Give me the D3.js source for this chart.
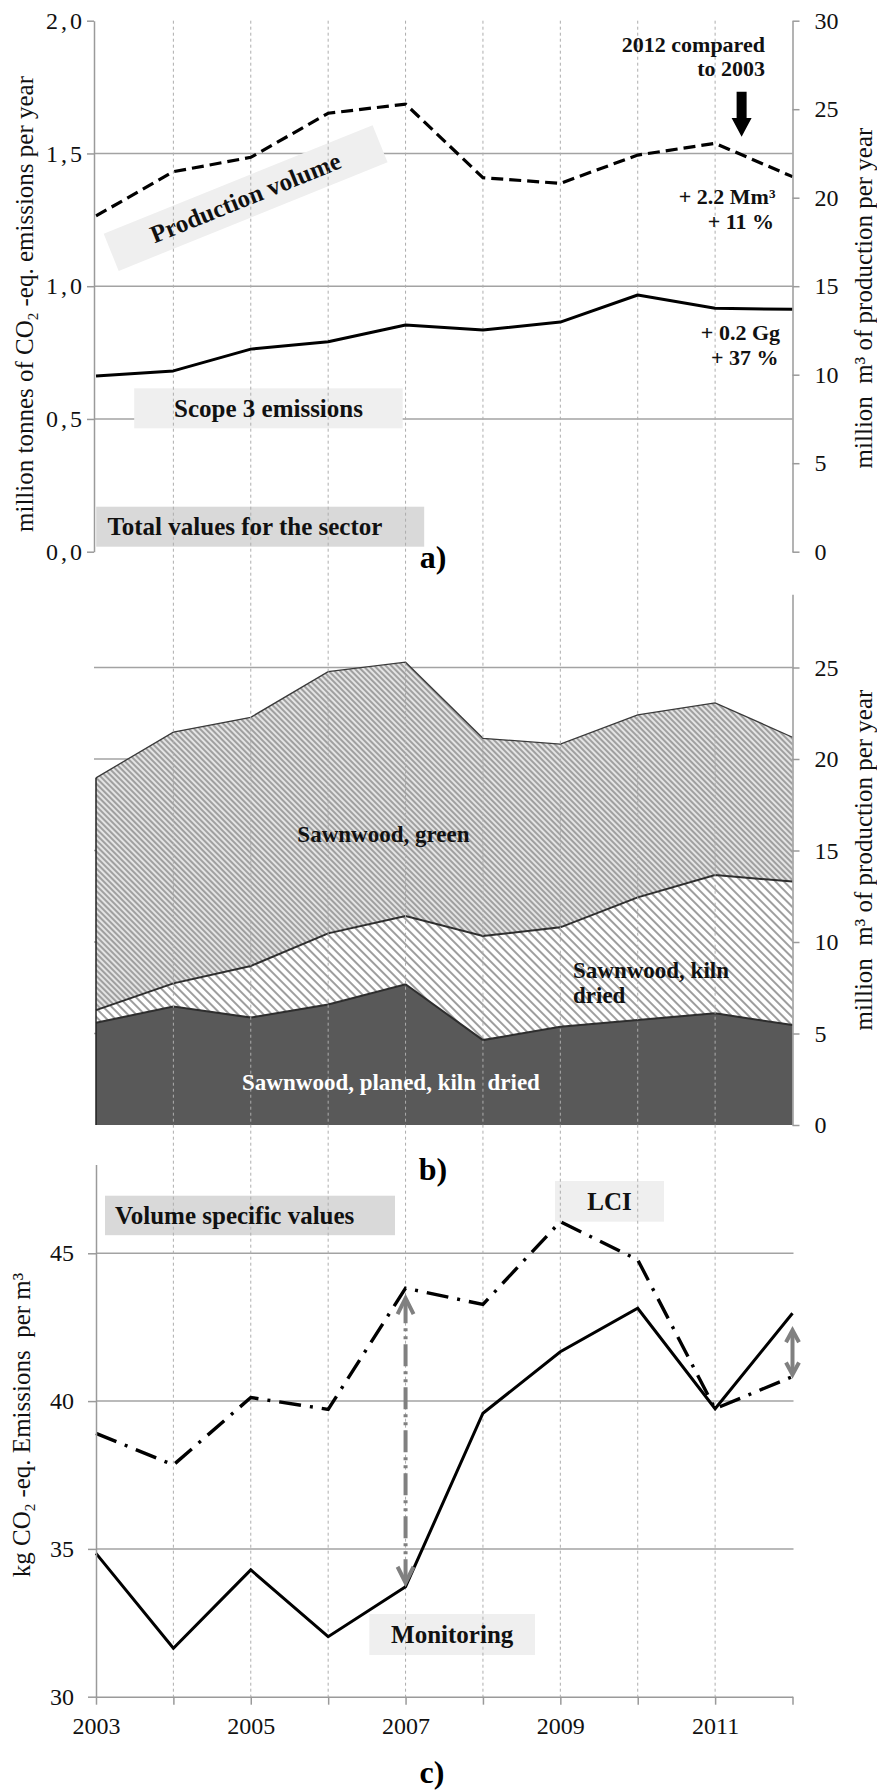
<!DOCTYPE html>
<html>
<head>
<meta charset="utf-8">
<script src="https://cdn.jsdelivr.net/npm/d3@7"></script>
<style>
  body { margin: 0; background: #fff; }
  svg { display: block; }
</style>
</head>
<body>
<svg id="chart" width="877" height="1791"></svg>
<script>
// ---- data ----
const years = [2003, 2004, 2005, 2006, 2007, 2008, 2009, 2010, 2011, 2012];
const yearLabels = [2003, 2005, 2007, 2009, 2011];

// a) totals for the sector
const scope3Emissions = [0.662, 0.681, 0.763, 0.791, 0.854, 0.835, 0.865, 0.967, 0.917, 0.913]; // Mt CO2-eq
const productionVolume = [18.97, 21.47, 22.28, 24.77, 25.29, 21.13, 20.81, 22.41, 23.07, 21.19]; // million m3

// b) production by product (million m3)
const planedKilnDried = [5.59, 6.47, 5.87, 6.59, 7.69, 4.64, 5.37, 5.74, 6.10, 5.46];
const kilnDried       = [0.69, 1.27, 2.82, 3.88, 3.73, 5.69, 5.43, 6.70, 7.56, 7.84];
const greenSawnwood   = [12.69, 13.73, 13.59, 14.30, 13.87, 10.80, 10.01, 9.97, 9.41, 7.89];

// c) volume specific emissions (kg CO2-eq per m3)
const lciPerM3        = [38.91, 37.84, 40.12, 39.72, 43.82, 43.27, 46.07, 44.78, 39.74, 40.83];
const monitoringPerM3 = [34.85, 31.64, 34.29, 32.03, 33.72, 39.59, 41.67, 43.14, 39.74, 42.97];

const emissionTicks = [0, 0.5, 1.0, 1.5, 2.0];
const volumeTicksA  = [0, 5, 10, 15, 20, 25, 30];
const volumeTicksB  = [0, 5, 10, 15, 20, 25];
const specificTicks = [30, 35, 40, 45];

// ---- setup ----
const SERIF = "'Liberation Serif','Times New Roman',serif";
const GRID = "#a3a3a3";
const AXIS = "#9a9a9a";
const svg = d3.select("#chart");
const defs = svg.append("defs");

const x = d3.scaleLinear().domain([2003, 2012]).range([96, 792.5]);
const yL = d3.scaleLinear().domain([0, 2]).range([551.7, 20.7]);
const yR = d3.scaleLinear().domain([0, 30]).range([551.7, 20.7]);
const yB = d3.scaleLinear().domain([0, 29]).range([1125, 594.3]);
const yC = d3.scaleLinear().domain([30, 48]).range([1696.7, 1164.6]);

const leftA = x(2003) - 2;

// hatch patterns for the stacked areas
const pg = defs.append("pattern").attr("id", "hatchGreen")
  .attr("patternUnits", "userSpaceOnUse").attr("width", 4).attr("height", 4)
  .attr("patternTransform", "rotate(-45)");
pg.append("rect").attr("width", 4).attr("height", 4).attr("fill", "#e4e4e4");
pg.append("line").attr("x1", 2).attr("x2", 2).attr("y1", 0).attr("y2", 4)
  .attr("stroke", "#727272").attr("stroke-width", 1.2);

const pk = defs.append("pattern").attr("id", "hatchKiln")
  .attr("patternUnits", "userSpaceOnUse").attr("width", 6).attr("height", 6)
  .attr("patternTransform", "rotate(-45)");
pk.append("rect").attr("width", 6).attr("height", 6).attr("fill", "#fff");
pk.append("line").attr("x1", 3).attr("x2", 3).attr("y1", 0).attr("y2", 6)
  .attr("stroke", "#6a6a6a").attr("stroke-width", 1.3);

// ---- horizontal gridlines ----
const grid = svg.append("g").attr("stroke", GRID).attr("stroke-width", 1.5);
grid.selectAll(".ga").data([0.5, 1.0, 1.5]).join("line")
  .attr("x1", leftA).attr("x2", x(2012))
  .attr("y1", d => yL(d)).attr("y2", d => yL(d));
grid.selectAll(".gb").data([5, 10, 15, 20, 25]).join("line")
  .attr("x1", leftA).attr("x2", x(2012))
  .attr("y1", d => yB(d)).attr("y2", d => yB(d));
grid.selectAll(".gc").data([35, 40, 45]).join("line")
  .attr("x1", x(2003)).attr("x2", x(2012) + 1)
  .attr("y1", d => yC(d)).attr("y2", d => yC(d));

// ---- b) stacked areas ----
const rows = years.map((yr, i) => ({
  year: yr, planed: planedKilnDried[i], kiln: kilnDried[i], green: greenSawnwood[i]
}));
const stacked = d3.stack().keys(["planed", "kiln", "green"])(rows);
const fills = { planed: "#595959", kiln: "url(#hatchKiln)", green: "url(#hatchGreen)" };
const area = d3.area().x(d => x(d.data.year)).y0(d => yB(d[0])).y1(d => yB(d[1]));
const topLine = d3.line().x(d => x(d.data.year)).y(d => yB(d[1]));
svg.append("g").selectAll("path").data(stacked).join("path")
  .attr("d", area).attr("fill", d => fills[d.key]);
svg.append("g").selectAll("path").data(stacked).join("path")
  .attr("d", topLine).attr("fill", "none")
  .attr("stroke", d => d.key === "green" ? "#3a3a3a" : "#2e2e2e")
  .attr("stroke-width", d => d.key === "green" ? 1.3 : 2);
const total2003 = stacked[2][0][1];
svg.append("line")
  .attr("x1", x(2003)).attr("x2", x(2003))
  .attr("y1", yB(0)).attr("y2", yB(total2003))
  .attr("stroke", "#222").attr("stroke-width", 1.5);

// ---- label boxes ----
function box(x0, y0, w, h, fill) {
  svg.append("rect").attr("x", x0).attr("y", y0).attr("width", w).attr("height", h).attr("fill", fill);
}
const LIGHT = "#efefef", DARK = "#d9d9d9";
const prodGroup = svg.append("g").attr("transform", "translate(246,199) rotate(-22)");
prodGroup.append("rect").attr("x", -145).attr("y", -21).attr("width", 290).attr("height", 40).attr("fill", LIGHT);
box(134.2, 388.3, 268.5, 40, LIGHT);   // Scope 3 emissions
box(96.2, 506.7, 328, 40, DARK);       // Total values for the sector
box(105, 1195.7, 290, 39.5, DARK);     // Volume specific values
box(555, 1181, 109, 40.7, LIGHT);      // LCI
box(369.3, 1614, 165.7, 41, LIGHT);    // Monitoring

// ---- vertical dashed year lines ----
svg.append("g").selectAll("line").data(years.slice(1, -1)).join("line")
  .attr("x1", d => x(d)).attr("x2", d => x(d))
  .attr("y1", yL(2)).attr("y2", yC(30))
  .attr("stroke", "#adadad").attr("stroke-width", 1).attr("stroke-dasharray", "3,3");

// ---- a) lines ----
svg.append("path").datum(productionVolume)
  .attr("d", d3.line().x((d, i) => x(years[i])).y(d => yR(d))).attr("fill", "none")
  .attr("stroke", "#000").attr("stroke-width", 3.2).attr("stroke-dasharray", "12,6");
svg.append("path").datum(scope3Emissions)
  .attr("d", d3.line().x((d, i) => x(years[i])).y(d => yL(d)))
  .attr("fill", "none").attr("stroke", "#000").attr("stroke-width", 3).attr("stroke-linejoin", "round");

// ---- c) lines ----
svg.append("path").datum(lciPerM3)
  .attr("d", d3.line().x((d, i) => x(years[i])).y(d => yC(d)))
  .attr("fill", "none").attr("stroke", "#000").attr("stroke-width", 3.4)
  .attr("stroke-dasharray", "22,9,3,9");
svg.append("path").datum(monitoringPerM3)
  .attr("d", d3.line().x((d, i) => x(years[i])).y(d => yC(d)))
  .attr("fill", "none").attr("stroke", "#000").attr("stroke-width", 3).attr("stroke-linejoin", "miter");

// gap arrows between LCI and monitoring
const ARROW = "#808080";
function gapArrow(xp, yTop, yBot, half, head, dash) {
  const g = svg.append("g").attr("stroke", ARROW).attr("fill", "none")
    .attr("stroke-width", 4).attr("stroke-linejoin", "miter");
  g.append("line").attr("x1", xp).attr("x2", xp).attr("y1", yTop + 3).attr("y2", yBot - 3)
    .attr("stroke-dasharray", dash);
  g.append("path").attr("d", `M${xp - half},${yTop + head}L${xp},${yTop}L${xp + half},${yTop + head}`);
  g.append("path").attr("d", `M${xp - half},${yBot - head}L${xp},${yBot}L${xp + half},${yBot - head}`);
}
gapArrow(x(2007), yC(lciPerM3[4]) + 10, yC(monitoringPerM3[4]) - 4, 8, 16, "22,5,3,5,3,5");
gapArrow(x(2012), yC(monitoringPerM3[9]) + 17, yC(lciPerM3[9]) - 2, 6.5, 12, null);

// ---- axes ----
function styleAxis(g) {
  g.attr("font-family", SERIF).attr("font-size", 24);
  g.select(".domain").attr("stroke", AXIS).attr("stroke-width", 1.5);
  g.selectAll(".tick line").attr("stroke", AXIS).attr("stroke-width", 1.5);
  g.selectAll(".tick text").attr("fill", "#111");
}
const commaFmt = d => d3.format(".1f")(d).replace(".", ",");

svg.append("g").attr("transform", `translate(${leftA},0)`)
  .call(d3.axisLeft(yL).tickValues(emissionTicks).tickFormat(commaFmt)
    .tickSize(7).tickSizeOuter(0).tickPadding(5))
  .call(styleAxis)
  .call(g => g.selectAll(".tick text").attr("textLength", 36).attr("lengthAdjust", "spacing"));

svg.append("g").attr("transform", `translate(${x(2012)},0)`)
  .call(d3.axisRight(yR).tickValues(volumeTicksA).tickSize(7).tickSizeOuter(0).tickPadding(15))
  .call(styleAxis);

svg.append("g").attr("transform", `translate(${x(2012)},0)`)
  .call(d3.axisRight(yB).tickValues(volumeTicksB).tickSize(7).tickSizeOuter(0).tickPadding(15))
  .call(styleAxis);

svg.append("g").attr("transform", `translate(${x(2003)},0)`)
  .call(d3.axisLeft(yC).tickValues(specificTicks).tickSize(8).tickSizeOuter(0).tickPadding(14))
  .call(styleAxis);

svg.append("g").attr("transform", `translate(0,${yC(30)})`)
  .call(d3.axisBottom(x).tickValues(years).tickSize(8).tickSizeOuter(0).tickPadding(12)
    .tickFormat(d => yearLabels.includes(d) ? String(d) : ""))
  .call(styleAxis);

// ---- axis titles ----
function vTitle(cx, cy, size, parts) {
  const t = svg.append("text")
    .attr("transform", `translate(${cx},${cy}) rotate(-90)`)
    .attr("text-anchor", "middle").attr("font-family", SERIF).attr("font-size", size).attr("fill", "#111")
    .style("white-space", "pre");
  parts.forEach(p => {
    const s = t.append("tspan").text(p.t);
    if (p.sub) s.attr("font-size", 15).attr("dy", 5);
    if (p.after) s.attr("dy", -5);
  });
}
vTitle(33, 304, 25, [{ t: "million tonnes of CO" }, { t: "2", sub: true }, { t: " -eq. emissions per year", after: true }]);
vTitle(872, 298, 25, [{ t: "million  m³ of production per year" }]);
vTitle(872, 860, 25, [{ t: "million  m³ of production per year" }]);
vTitle(30, 1425, 25, [{ t: "kg CO" }, { t: "2", sub: true }, { t: " -eq. Emissions  per m³", after: true }]);

// ---- labels ----
function label(tx, ty, str, opts = {}) {
  return svg.append("text").attr("x", tx).attr("y", ty)
    .attr("font-family", SERIF).attr("font-weight", "bold")
    .attr("font-size", opts.size || 25)
    .attr("text-anchor", opts.anchor || "start")
    .attr("fill", opts.fill || "#111")
    .style("white-space", "pre")
    .text(str);
}
prodGroup.append("text").attr("x", 0).attr("y", 7).attr("text-anchor", "middle")
  .attr("font-family", SERIF).attr("font-weight", "bold").attr("font-size", 25).attr("fill", "#111")
  .text("Production volume");
label(268.5, 416.5, "Scope 3 emissions", { anchor: "middle" });
label(107.4, 535, "Total values for the sector");
label(115, 1223.5, "Volume specific values");
label(609.5, 1209.5, "LCI", { anchor: "middle" });
label(452.2, 1642.5, "Monitoring", { anchor: "middle" });

label(765, 51.7, "2012 compared", { anchor: "end", size: 22 });
label(765, 76, "to 2003", { anchor: "end", size: 22 });
label(775.5, 204, "+ 2.2 Mm³", { anchor: "end", size: 22 });
label(774, 229.3, "+ 11 %", { anchor: "end", size: 22 });
label(780, 340, "+ 0.2 Gg", { anchor: "end", size: 22 });
label(778.5, 365, "+ 37 %", { anchor: "end", size: 22 });

// arrow pointing at the 2012 values
const ax = x(2011) + 26.5;
svg.append("path")
  .attr("d", `M${ax - 5},91.7H${ax + 5}V118H${ax + 10}L${ax},136.7L${ax - 10},118H${ax - 5}Z`)
  .attr("fill", "#000");

label(383.4, 842, "Sawnwood, green", { anchor: "middle", size: 23 });
label(573, 978.3, "Sawnwood, kiln", { size: 23 });
label(573, 1003.3, "dried", { size: 23 });
label(391, 1090, "Sawnwood, planed, kiln  dried", { anchor: "middle", size: 23, fill: "#fff" });

label(433, 568, "a)", { anchor: "middle", size: 32, fill: "#000" });
label(433, 1180, "b)", { anchor: "middle", size: 32, fill: "#000" });
label(432, 1783, "c)", { anchor: "middle", size: 32, fill: "#000" });
</script>
</body>
</html>
